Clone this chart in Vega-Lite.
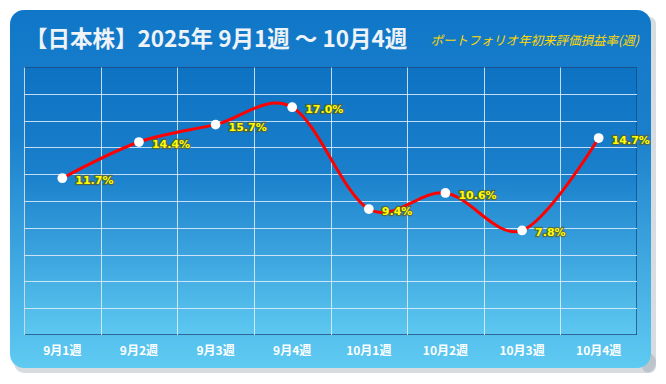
{
  "$schema": "https://vega.github.io/schema/vega-lite/v6.json",
  "width": 613,
  "height": 268,
  "autosize": "none",
  "padding": {"left": 24, "top": 67, "right": 29, "bottom": 49},
  "background": "white",
  "title": {
    "text": "【日本株】2025年 9月1週 〜 10月4週",
    "anchor": "start",
    "frame": "group",
    "orient": "top",
    "offset": -52,
    "baseline": "middle",
    "dx": 1,
    "font": "Noto Sans CJK JP",
    "fontSize": 22.5,
    "fontWeight": "bold",
    "color": "#eef3f8"
  },
  "data": {"values": [
    {"week": "9月1週", "value": 11.7, "label": "11.7%"},
    {"week": "9月2週", "value": 14.4, "label": "14.4%"},
    {"week": "9月3週", "value": 15.7, "label": "15.7%"},
    {"week": "9月4週", "value": 17.0, "label": "17.0%"},
    {"week": "10月1週", "value": 9.4, "label": "9.4%"},
    {"week": "10月2週", "value": 10.6, "label": "10.6%"},
    {"week": "10月3週", "value": 7.8, "label": "7.8%"},
    {"week": "10月4週", "value": 14.7, "label": "14.7%"}
  ]},
  "resolve": {"axis": {"x": "independent", "y": "independent"}},
  "layer": [
    {
      "data": {"values": [{}]},
      "mark": {"type": "rect", "color": "#8d9aa6", "opacity": 0.35, "cornerRadius": 16},
      "encoding": {"x": {"value": 618}, "x2": {"value": 632}, "y": {"value": -50}, "y2": {"value": 306}}
    },
    {
      "data": {"values": [{}]},
      "mark": {"type": "rect", "color": "#8d9aa6", "opacity": 0.35, "cornerRadius": 16},
      "encoding": {"x": {"value": -10}, "x2": {"value": 632}, "y": {"value": 285}, "y2": {"value": 306}}
    },
    {
      "data": {"values": [{}]},
      "mark": {
        "type": "rect", "cornerRadiusTopLeft": 14, "cornerRadiusTopRight": 14,
        "color": {"gradient": "linear", "x1": 0, "y1": 0, "x2": 0, "y2": 1,
          "stops": [{"offset": 0, "color": "#1077c8"}, {"offset": 1, "color": "#157bca"}]}
      },
      "encoding": {"x": {"value": -14}, "x2": {"value": 627}, "y": {"value": -57}, "y2": {"value": 0}}
    },
    {
      "data": {"values": [{}]},
      "mark": {
        "type": "rect", "cornerRadiusBottomLeft": 14, "cornerRadiusBottomRight": 14,
        "color": {"gradient": "linear", "x1": 0, "y1": 0, "x2": 0, "y2": 1,
          "stops": [{"offset": 0, "color": "#55c0ed"}, {"offset": 1, "color": "#5fcbf2"}]}
      },
      "encoding": {"x": {"value": -14}, "x2": {"value": 627}, "y": {"value": 268}, "y2": {"value": 301}}
    },
    {
      "data": {"values": [{}]},
      "mark": {
        "type": "rect",
        "color": {"gradient": "linear", "x1": 0, "y1": 0, "x2": 0, "y2": 1,
          "stops": [{"offset": 0, "color": "#157bca"}, {"offset": 0.255, "color": "#1a80cc"}, {"offset": 1, "color": "#55c0ed"}]}
      },
      "encoding": {"x": {"value": -14}, "x2": {"value": 0}, "y": {"value": 0}, "y2": {"value": 268}}
    },
    {
      "data": {"values": [{}]},
      "mark": {
        "type": "rect",
        "color": {"gradient": "linear", "x1": 0, "y1": 0, "x2": 0, "y2": 1,
          "stops": [{"offset": 0, "color": "#157bca"}, {"offset": 0.255, "color": "#1a80cc"}, {"offset": 1, "color": "#55c0ed"}]}
      },
      "encoding": {"x": {"value": 613}, "x2": {"value": 627}, "y": {"value": 0}, "y2": {"value": 268}}
    },
    {
      "data": {"values": [{}]},
      "mark": {
        "type": "text",
        "text": "ポートフォリオ年初来評価損益率(週)",
        "align": "right",
        "baseline": "middle",
        "font": "Noto Sans CJK JP",
        "fontSize": 12.5,
        "fontStyle": "italic",
        "color": "#ffd800"
      },
      "encoding": {"x": {"value": 615}, "y": {"value": -26}}
    },
    {
      "mark": {"type": "line", "color": "#ff0000", "strokeWidth": 3, "interpolate": "cardinal"},
      "encoding": {
        "x": {
          "field": "week", "type": "nominal", "sort": null, "title": null,
          "scale": {"type": "band", "paddingInner": 0, "paddingOuter": 0},
          "axis": {
            "orient": "bottom", "labels": false, "ticks": false, "domain": false, "grid": true, "tickBand": "extent",
            "gridColor": "#e2eff9", "gridOpacity": 0.85, "gridWidth": 1
          }
        },
        "y": {
          "field": "value", "type": "quantitative", "title": null,
          "scale": {"domain": [0, 20], "nice": false, "zero": false},
          "axis": {
            "labels": false, "ticks": false, "domain": false, "grid": true,
            "values": [2, 4, 6, 8, 10, 12, 14, 16, 18],
            "gridColor": "#e2eff9", "gridOpacity": 0.85, "gridWidth": 1
          }
        }
      }
    },
    {
      "mark": {"type": "circle", "color": "#ffffff", "opacity": 1, "size": 95},
      "encoding": {
        "x": {
          "field": "week", "type": "nominal", "sort": null, "title": null,
          "axis": {
            "orient": "bottom", "grid": false, "ticks": false, "domain": false,
            "labelAngle": 0, "labelPadding": 10, "labelColor": "#ffffff",
            "labelFont": "Noto Sans CJK JP", "labelFontSize": 12, "labelFontWeight": "bold",
            "zindex": 1
          }
        },
        "y": {"field": "value", "type": "quantitative", "axis": null}
      }
    },
    {
      "mark": {
        "type": "text", "align": "left", "baseline": "middle", "dx": 13, "dy": 3,
        "font": "DejaVu Sans", "fontSize": 11, "fontWeight": "bold",
        "color": "#6b6a10", "stroke": "#5e5c1a", "strokeWidth": 2.5, "strokeOpacity": 0.7
      },
      "encoding": {
        "x": {"field": "week", "type": "nominal", "sort": null, "axis": null},
        "y": {"field": "value", "type": "quantitative", "axis": null},
        "text": {"field": "label"}
      }
    },
    {
      "mark": {
        "type": "text", "align": "left", "baseline": "middle", "dx": 13, "dy": 3,
        "font": "DejaVu Sans", "fontSize": 11, "fontWeight": "bold",
        "color": "#ffff00"
      },
      "encoding": {
        "x": {"field": "week", "type": "nominal", "sort": null, "axis": null},
        "y": {"field": "value", "type": "quantitative", "axis": null},
        "text": {"field": "label"}
      }
    }
  ],
  "config": {
    "view": {
      "stroke": "#1b4a7c",
      "strokeWidth": 1.5,
      "fill": {
        "gradient": "linear", "x1": 0, "y1": 0, "x2": 0, "y2": 1,
        "stops": [
          {"offset": 0, "color": "#0d72c2"},
          {"offset": 0.4, "color": "#1a80cc"},
          {"offset": 1, "color": "#5dc8f0"}
        ]
      }
    }
  }
}
